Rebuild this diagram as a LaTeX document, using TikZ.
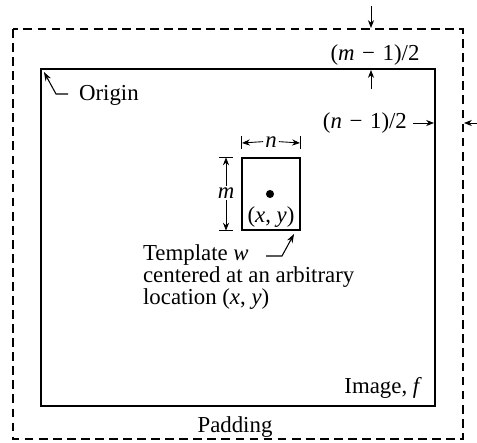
\documentclass[tikz,border=0pt]{standalone}
\usepackage{fontspec}
\setmainfont{Liberation Serif}
\usepackage{tikz}
\usetikzlibrary{arrows.meta,positioning}
\newcommand{\vr}[1]{\textit{#1}}

\begin{document}
\begin{tikzpicture}[x=0.02cm, y=-0.02cm,
    padline/.style={line width=0.6pt, dash pattern=on 5pt off 3pt},
    imgline/.style={line width=0.8pt},
    dimarrow/.style={line width=0.5pt, -{Stealth[length=4.5pt,width=3.5pt]}},
    leader/.style={line width=0.6pt, -{Stealth[length=5pt,width=3.5pt]}},
    lbl/.style={inner sep=1pt, font=\fontsize{13}{12.6}\selectfont}]
    \useasboundingbox (0,0) rectangle (477,443);

    % padding border (dashed) and image border
    \coordinate (padTL) at (13,29);
    \coordinate (padBR) at (463,439);
    \draw[padline] (padTL) rectangle (padBR);
    \coordinate (imgTL) at (41,69);
    \coordinate (imgBR) at (435,406);
    \draw[imgline] (imgTL) rectangle (imgBR);

    % origin marker
    \node[lbl, anchor=base west] (origin) at (77,100) {Origin};
    \coordinate (originStart) at (68,94);
    \coordinate (originKnee) at (56,94);
    \coordinate (originTip) at (44,72);
    \draw[leader] (originStart) -- (originKnee) -- (originTip);

    % top padding width (m-1)/2
    \node[lbl, anchor=base] (mhalf) at (375,60) {(\vr{m}\,\,−\,\,1)/2};
    \coordinate (mtopStart) at (371,6);
    \coordinate (mtopEnd) at (371,28);
    \draw[dimarrow] (mtopStart) -- (mtopEnd);
    \coordinate (mbotStart) at (371,89);
    \coordinate (mbotEnd) at (371,70);
    \draw[dimarrow] (mbotStart) -- (mbotEnd);

    % side padding width (n-1)/2
    \node[lbl, anchor=base east] (nhalf) at (409,128) {(\vr{n}\,\,−\,\,1)/2};
    \coordinate (nleftStart) at (413,123);
    \coordinate (nleftEnd) at (434,123);
    \draw[dimarrow] (nleftStart) -- (nleftEnd);
    \coordinate (nrightStart) at (478,123);
    \coordinate (nrightEnd) at (464,123);
    \draw[dimarrow] (nrightStart) -- (nrightEnd);

    % template w
    \node[draw, line width=0.7pt, minimum width=1.16cm, minimum height=1.44cm,
          inner sep=0pt] (tmpl) at (271,194) {};
    \fill (270,194) circle (2.3pt);
    \node[lbl, anchor=base] (xy) at (271,222) {(\vr{x}, \vr{y})};

    % template size n
    \node[lbl, anchor=base] (nsize) at (271,147) {\vr{n}};
    \draw[line width=0.5pt] (tmpl.north west) ++(0,-21) coordinate (nbarL) -- ++(0,13);
    \draw[line width=0.5pt] (tmpl.north east) ++(0,-21) coordinate (nbarR) -- ++(0,13);
    \coordinate (nL) at (242,143);
    \coordinate (nR) at (300,143);
    \draw[dimarrow] (nsize.west) -- (nL);
    \draw[dimarrow] (nsize.east) -- (nR);

    % template size m
    \node[lbl] (msize) at (226,193) {\vr{m}};
    \coordinate (mT) at (msize |- tmpl.north);
    \coordinate (mB) at (msize |- tmpl.south);
    \draw[line width=0.5pt] ([xshift=-0.14cm]mT) -- ([xshift=0.14cm]mT);
    \draw[line width=0.5pt] ([xshift=-0.14cm]mB) -- ([xshift=0.14cm]mB);
    \draw[dimarrow] (msize.north) -- (mT);
    \draw[dimarrow] (msize.south) -- (mB);

    % template description
    \node[lbl, anchor=base west] (tmplA) at (141,260) {Template \vr{w}};
    \node[lbl, anchor=base west] (tmplB) at (141,282) {centered at an arbitrary};
    \node[lbl, anchor=base west] (tmplC) at (141,304) {location (\vr{x}, \vr{y})};
    \coordinate (tmplKneeA) at (266,256);
    \coordinate (tmplKneeB) at (282,256);
    \coordinate (tmplTip) at (294,234);
    \draw[leader] (tmplKneeA) -- (tmplKneeB) -- (tmplTip);

    % labels
    \node[lbl, anchor=base east] (imglabel) at (424,393) {Image, \vr{f}};
    \node[lbl, anchor=base] (padlabel) at (235,432) {Padding};
\end{tikzpicture}
\end{document}
